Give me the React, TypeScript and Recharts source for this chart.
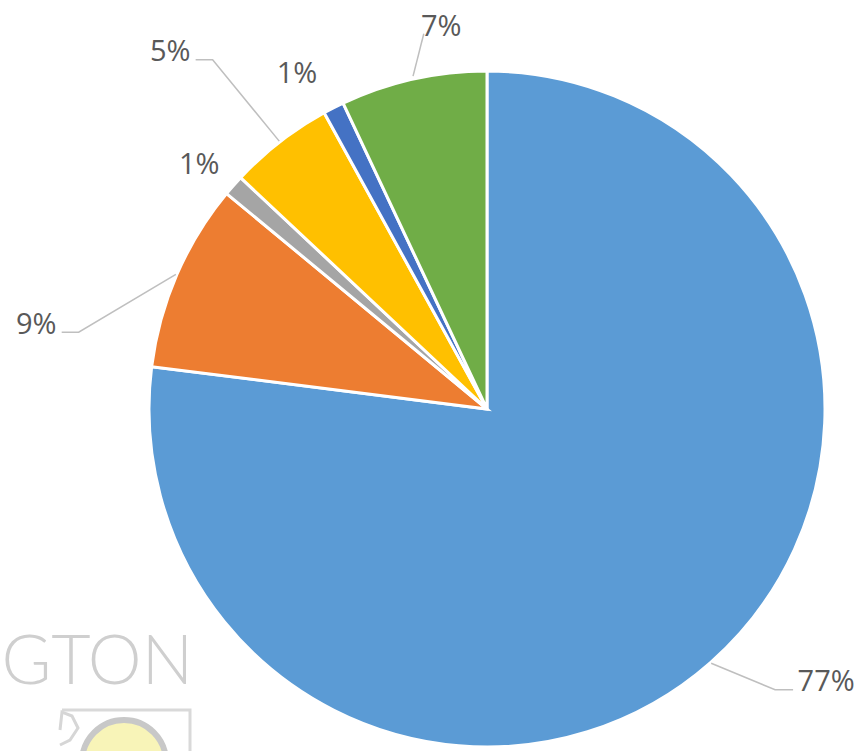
import React from "react";
import { PieChart, Pie, Cell } from "recharts";

const categories = ["A", "B", "C", "D", "E", "F"];
const shares = [77, 9, 1, 5, 1, 7];
const colors = ["#5B9BD5", "#ED7D31", "#A5A5A5", "#FFC000", "#4472C4", "#70AD47"];

// label placement relative to slice mid-angle: extra radius, angle nudge (deg), leader style
const labelRadiusExtra = [96, 121, 41, 141, 49, 49];
const labelAngleNudge = [10, 12.5, 0.8, 3.6, 2.4, -5.8];
const leaderStyle = ["elbow", "elbow", "none", "elbow", "straight", "straight"];

const data = categories.map((c, i) => ({ name: c, value: shares[i] }));

const RAD = Math.PI / 180;
const FONT = "'Open Sans', sans-serif";

const renderLabel = (props: any) => {
  const { cx, cy, midAngle, outerRadius, index, value } = props;
  const a = (midAngle + labelAngleNudge[index]) * RAD;
  const r = outerRadius + labelRadiusExtra[index];
  const tx = cx + r * Math.cos(a);
  const ty = cy - r * Math.sin(a);
  const text = `${value}%`;
  const halfW = text.length * 9.7;
  const ex = cx + (outerRadius + 1) * Math.cos(midAngle * RAD);
  const ey = cy - (outerRadius + 1) * Math.sin(midAngle * RAD);
  let line: React.ReactNode = null;
  const style = leaderStyle[index];
  if (style === "elbow") {
    const onRight = tx > ex;
    const endX = onRight ? tx - halfW - 4 : tx + halfW + 6;
    const elbowX = onRight ? endX - 18 : endX + 17;
    const y = ty + 10;
    line = (
      <polyline
        points={`${ex},${ey} ${elbowX},${y} ${endX},${y}`}
        fill="none"
        stroke="#BFBFBF"
        strokeWidth={1.5}
      />
    );
  } else if (style === "straight") {
    const endX = tx - halfW + 2;
    const endY = ty + 9;
    line = (
      <polyline
        points={`${ex},${ey - 2} ${endX},${endY}`}
        fill="none"
        stroke="#BFBFBF"
        strokeWidth={1.5}
      />
    );
  }
  return (
    <g>
      {style === "straight" && index === 4 ? null : line}
      <text
        x={tx}
        y={ty}
        textAnchor="middle"
        dominantBaseline="central"
        fill="#595959"
        fontFamily={FONT}
        fontSize={29}
      >
        {text}
      </text>
    </g>
  );
};

export default function App() {
  return (
    <div style={{ position: "absolute", left: 0, top: 0, width: 860, height: 751, background: "#fff", overflow: "hidden" }}>
      <svg width={860} height={751} style={{ position: "absolute", left: 0, top: 0 }}>
        <text x={193} y={684} textAnchor="end" fill="#CFCFCF" fontFamily="Lato, sans-serif" fontWeight={300} fontSize={68}>
          GTON
        </text>
        <polyline points="60,730 62,712 72,716 78,728 70,740 60,745" fill="none" stroke="#D6D6D6" strokeWidth={3} />
        <polyline points="62,710 190,710 190,751" fill="none" stroke="#D9D9D9" strokeWidth={3} />
        <circle cx={124} cy={762} r={42} fill="#F8F4B8" stroke="#C8C8C8" strokeWidth={6} />
      </svg>
      <div style={{ position: "absolute", left: 0, top: 0 }}>
        <PieChart width={860} height={751} margin={{ top: 0, right: 0, bottom: 0, left: 0 }}>
          <Pie
            data={data}
            dataKey="value"
            nameKey="name"
            cx={487}
            cy={409}
            outerRadius={338}
            startAngle={90}
            endAngle={-270}
            stroke="#FFFFFF"
            strokeWidth={3}
            label={renderLabel}
            labelLine={false}
            isAnimationActive={false}
          >
            {data.map((d, i) => (
              <Cell key={d.name} fill={colors[i]} />
            ))}
          </Pie>
        </PieChart>
      </div>
    </div>
  );
}
